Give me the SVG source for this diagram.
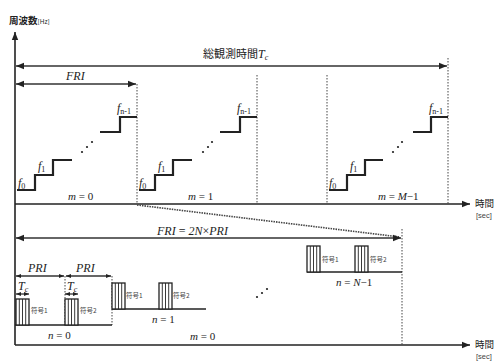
<svg xmlns="http://www.w3.org/2000/svg" width="495" height="361" viewBox="0 0 495 361">
<defs>
<style>
.ax{stroke:#222;stroke-width:1.6;fill:none}
.ln{stroke:#333;stroke-width:1.3;fill:none}
.st{stroke:#222;stroke-width:2.2;fill:none}
.dt{stroke:#444;stroke-width:1;stroke-dasharray:1.5 1.5;fill:none}
.dg{stroke:#444;stroke-width:1.6;stroke-dasharray:1.5 1;fill:none}
.m{font-family:"Liberation Serif",serif;font-style:italic;font-size:12px;fill:#222}
.mn{font-family:"Liberation Serif",serif;font-size:11px;fill:#222}
.sub{font-size:8px}
.jp{font-family:"Noto Sans CJK JP",sans-serif;fill:#222}
.cd{font-family:"Noto Sans CJK JP",sans-serif;font-size:6.5px;fill:#444}
.pu{fill:#fff;stroke:#222;stroke-width:1.3}
.pl{stroke:#222;stroke-width:0.9}
</style>
<marker id="ah" viewBox="0 0 10 10" refX="10" refY="5" markerWidth="8" markerHeight="8" markerUnits="userSpaceOnUse" orient="auto-start-reverse">
<path d="M0,1 L10,5 L0,9 Z" fill="#222"/>
</marker>
<marker id="as" viewBox="0 0 10 10" refX="10" refY="5" markerWidth="5" markerHeight="5" markerUnits="userSpaceOnUse" orient="auto-start-reverse">
<path d="M0,1 L10,5 L0,9 Z" fill="#222"/>
</marker>
<g id="pulse">
<rect class="pu" x="0" y="0" width="13" height="26"/>
<path class="pl" d="M3.3,0V26M6.5,0V26M9.7,0V26"/>
</g>
</defs>

<g id="axes">
<path class="ax" d="M15,345 V32" marker-end="url(#ah)"/>
<path class="ax" d="M15,204 H470" marker-end="url(#ah)"/>
<path class="ax" d="M15,345 H470" marker-end="url(#ah)"/>
<text class="jp" x="9" y="24" font-size="9.5" font-weight="bold">周波数<tspan font-size="6.5" font-weight="normal">[Hz]</tspan></text>
<text class="jp" x="475" y="207" font-size="9.5">時間</text>
<text x="476" y="218" font-size="7.5" font-family="Liberation Sans" fill="#444">[sec]</text>
<text class="jp" x="475" y="348" font-size="9.5">時間</text>
<text x="476" y="359" font-size="7.5" font-family="Liberation Sans" fill="#444">[sec]</text>
</g>

<g id="connectors">
<path class="ln" d="M16,66 H447" marker-start="url(#ah)" marker-end="url(#ah)"/>
<path class="ln" d="M16,84 H136" marker-start="url(#ah)" marker-end="url(#ah)"/>
<path class="dt" d="M137,84 V204"/>
<path class="dt" d="M257,75 V204"/>
<path class="dt" d="M327,75 V204"/>
<path class="dt" d="M448,58 V204"/>
<path class="dg" d="M137,205 L400,237"/>
<path class="ln" d="M16,238 H401" marker-start="url(#ah)" marker-end="url(#ah)"/>
<path class="dt" d="M402,229 V345"/>
<path class="ln" d="M16,276 H64" marker-start="url(#as)" marker-end="url(#as)"/>
<path class="ln" d="M66,276 H111" marker-start="url(#as)" marker-end="url(#as)"/>
<path class="dt" d="M65,276 V325"/>
<path class="dt" d="M112,276 V325"/>
<path class="ln" d="M16,294 H29" marker-start="url(#as)" marker-end="url(#as)" stroke-width="0.9"/>
<path class="ln" d="M65,294 H78" marker-start="url(#as)" marker-end="url(#as)" stroke-width="0.9"/>
</g>

<g id="labels-top">
<text class="jp" x="203" y="58" font-size="11">総観測時間<tspan class="m" font-size="12">T</tspan><tspan class="m sub" dy="2">c</tspan></text>
<text class="m" x="66" y="80">FRI</text>
</g>

<g id="block-m0">
<path class="st" d="M17,190 H35 V175 H53 V160 H72 M100,132 H120 V117 H137"/>
<g fill="#222"><circle cx="82" cy="152" r="1.1"/><circle cx="87" cy="147" r="1.1"/><circle cx="92" cy="142" r="1.1"/></g>
<text class="m" x="18" y="187">f<tspan class="sub" dy="2" font-style="normal">0</tspan></text>
<text class="m" x="38" y="170">f<tspan class="sub" dy="2" font-style="normal">1</tspan></text>
<text class="m" x="117" y="112">f<tspan class="sub" dy="2" font-style="normal">n-1</tspan></text>
<text class="mn" x="68" y="200"><tspan font-style="italic">m</tspan> = 0</text>
</g>

<g id="block-m1">
<path class="st" d="M139,190 H155 V175 H173 V160 H192 M220,132 H240 V117 H257"/>
<g fill="#222"><circle cx="203" cy="152" r="1.1"/><circle cx="208" cy="147" r="1.1"/><circle cx="212" cy="142" r="1.1"/></g>
<text class="m" x="139" y="187">f<tspan class="sub" dy="2" font-style="normal">0</tspan></text>
<text class="m" x="158" y="170">f<tspan class="sub" dy="2" font-style="normal">1</tspan></text>
<text class="m" x="237" y="112">f<tspan class="sub" dy="2" font-style="normal">n-1</tspan></text>
<text class="mn" x="188" y="200"><tspan font-style="italic">m</tspan> = 1</text>
</g>

<g id="block-mM1">
<path class="st" d="M329,190 H347 V175 H365 V160 H383 M413,132 H431 V117 H448"/>
<g fill="#222"><circle cx="393" cy="152" r="1.1"/><circle cx="398" cy="147" r="1.1"/><circle cx="402" cy="142" r="1.1"/></g>
<text class="m" x="329" y="187">f<tspan class="sub" dy="2" font-style="normal">0</tspan></text>
<text class="m" x="350" y="170">f<tspan class="sub" dy="2" font-style="normal">1</tspan></text>
<text class="m" x="429" y="112">f<tspan class="sub" dy="2" font-style="normal">n-1</tspan></text>
<text class="mn" x="378" y="200"><tspan font-style="italic">m</tspan> = <tspan font-style="italic">M</tspan>−1</text>
</g>

<g id="lower-labels">
<text class="m" x="157" y="235" font-size="13">FRI <tspan font-style="normal">=</tspan> 2N<tspan font-style="normal">×</tspan>PRI</text>
<text class="m" x="28" y="272">PRI</text>
<text class="m" x="76" y="272">PRI</text>
<text class="m" x="18" y="290">T<tspan class="sub" dy="2">c</tspan></text>
<text class="m" x="67" y="290">T<tspan class="sub" dy="2">c</tspan></text>
<text class="mn" x="190" y="340"><tspan font-style="italic">m</tspan> = 0</text>
</g>

<g id="frame-n0">
<path class="ax" d="M15,325 H112" stroke-width="1.4"/>
<use href="#pulse" x="16" y="299"/>
<use href="#pulse" x="65" y="299"/>
<text class="cd" x="31" y="313">符号1</text>
<text class="cd" x="80" y="313">符号2</text>
<text class="mn" x="48" y="339"><tspan font-style="italic">n</tspan> = 0</text>
</g>

<g id="frame-n1">
<path class="ax" d="M112,309 H206" stroke-width="1.4"/>
<use href="#pulse" x="112" y="283"/>
<use href="#pulse" x="159" y="283"/>
<text class="cd" x="126" y="298">符号1</text>
<text class="cd" x="173" y="298">符号2</text>
<text class="mn" x="152" y="323"><tspan font-style="italic">n</tspan> = 1</text>
<g fill="#222"><circle cx="257" cy="297" r="1.1"/><circle cx="262" cy="293" r="1.1"/><circle cx="267" cy="289" r="1.1"/></g>
</g>

<g id="frame-nN1">
<path class="ax" d="M307,272 H402" stroke-width="1.4"/>
<use href="#pulse" x="307" y="246"/>
<use href="#pulse" x="355" y="246"/>
<text class="cd" x="322" y="262">符号1</text>
<text class="cd" x="370" y="262">符号2</text>
<text class="mn" x="336" y="286"><tspan font-style="italic">n</tspan> = <tspan font-style="italic">N</tspan>−1</text>
</g>
</svg>
